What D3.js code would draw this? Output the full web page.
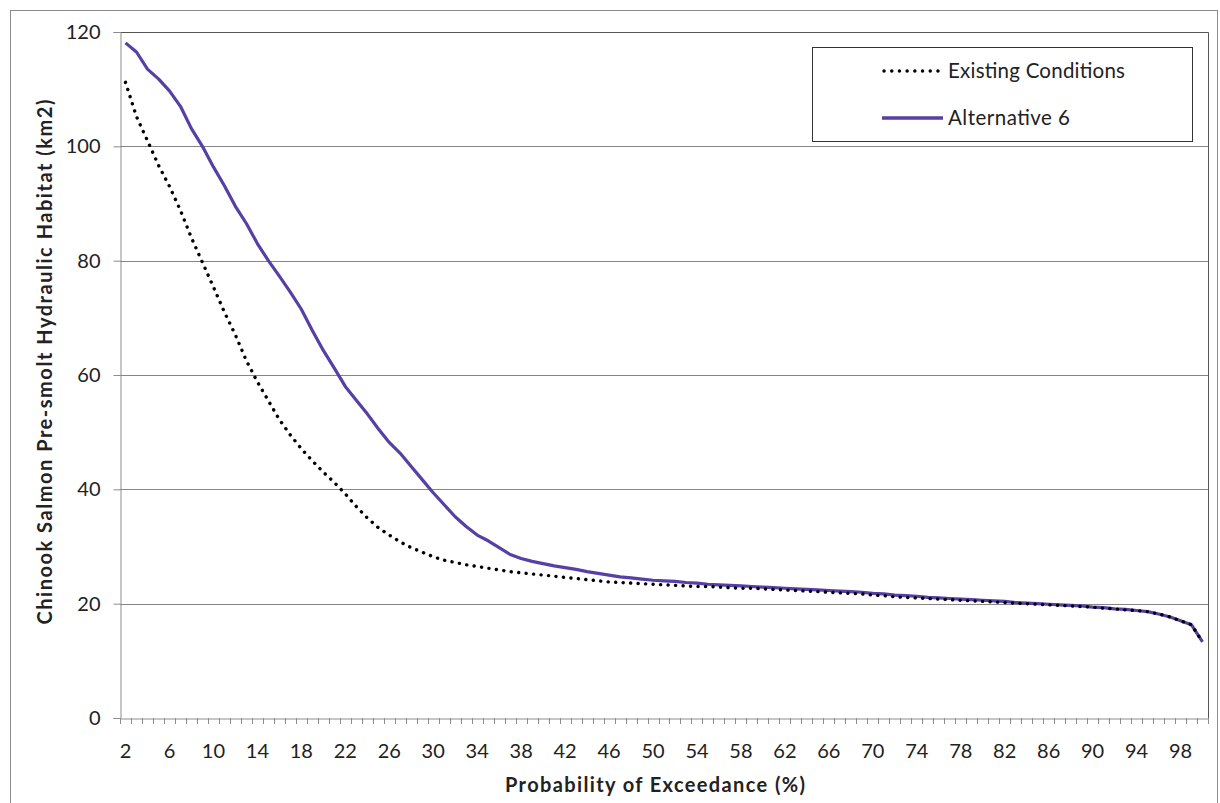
<!DOCTYPE html>
<html><head><meta charset="utf-8">
<script src="https://cdn.jsdelivr.net/npm/d3@7"></script>
<style>
html,body{margin:0;padding:0;background:#fff;}
svg{display:block;font-family:Lato, "Open Sans", sans-serif;}
</style></head>
<body>
<svg id="chart" width="1220" height="803"></svg>
<script>
// Categories: probability of exceedance (%) 2..100
const categories = d3.range(2, 101);
const tickLabels = ["2","6","10","14","18","22","26","30","34","38","42","46","50","54","58","62","66","70","74","78","82","86","90","94","98"];
const yTicks = [0, 20, 40, 60, 80, 100, 120];
const seriesNames = ["Existing Conditions", "Alternative 6"];

const existingValues = [
111.2,105.2,101.0,96.7,93.0,88.8,84.0,79.7,75.4,71.0,
67.0,62.5,58.8,55.5,52.2,49.5,47.1,45.0,43.0,41.2,
39.2,37.0,35.0,33.3,32.0,30.8,29.8,29.0,28.2,27.6,
27.2,26.8,26.5,26.2,25.9,25.6,25.4,25.2,25.0,24.8,
24.6,24.4,24.2,24.0,23.8,23.7,23.6,23.5,23.4,23.3,
23.2,23.1,23.0,23.0,22.9,22.8,22.7,22.7,22.6,22.5,
22.4,22.3,22.2,22.1,22.0,21.9,21.8,21.7,21.5,21.4,
21.2,21.1,21.0,20.9,20.8,20.7,20.6,20.5,20.4,20.3,
20.2,20.1,20.0,19.9,19.8,19.7,19.6,19.5,19.4,19.2,
19.1,18.9,18.8,18.6,18.2,17.7,17.0,16.3,13.3];

const alternativeValues = [
118.1,116.5,113.5,111.8,109.7,107.0,103.1,100.0,96.4,93.1,
89.5,86.5,83.0,80.0,77.3,74.5,71.5,67.8,64.3,61.2,
58.0,55.6,53.2,50.6,48.2,46.3,44.0,41.7,39.4,37.3,
35.2,33.5,32.0,31.0,29.8,28.6,27.9,27.4,27.0,26.6,
26.3,26.0,25.6,25.3,25.0,24.7,24.5,24.3,24.1,24.0,
23.9,23.7,23.6,23.4,23.3,23.2,23.1,23.0,22.9,22.8,
22.7,22.6,22.5,22.4,22.3,22.2,22.1,22.0,21.8,21.7,
21.5,21.4,21.3,21.1,21.0,20.9,20.8,20.7,20.6,20.5,
20.4,20.2,20.1,20.0,19.9,19.8,19.7,19.6,19.4,19.3,
19.1,19.0,18.8,18.6,18.2,17.7,17.0,16.3,13.3];

const svg = d3.select("#chart");
const L = 120, R = 1208, T = 32, B = 718;

// outer chart border
svg.append("rect").attr("x", 10.5).attr("y", 10.5).attr("width", 1207).attr("height", 800)
  .attr("fill", "#fff").attr("stroke", "#8c8c8c").attr("stroke-width", 1);

const x = d3.scaleBand().domain(categories).range([L, R]).paddingInner(0).paddingOuter(0);
const y = d3.scaleLinear().domain([0, 120]).range([B, T]);
const cx = c => x(c) + x.bandwidth() / 2;

// gridlines
svg.append("g").selectAll("line").data(yTicks.filter(v => v > 0 && v < 120)).join("line")
  .attr("x1", L).attr("x2", R).attr("y1", d => Math.round(y(d)) + 0.5).attr("y2", d => Math.round(y(d)) + 0.5)
  .attr("stroke", "#868686").attr("stroke-width", 1);

// plot area border (top & right)
svg.append("path")
  .attr("d", `M${L},${Math.round(y(120)) + 0.5}H${R + 0.5}V${B}`)
  .attr("fill", "none").attr("stroke", "#555").attr("stroke-width", 1);

// y axis
const yAxis = svg.append("g").attr("transform", `translate(${L + 0.5},0)`)
  .call(d3.axisLeft(y).tickValues(yTicks).tickSize(7).tickPadding(13).tickFormat(d3.format("d")));
yAxis.select(".domain").attr("stroke", "#8c8c8c");
yAxis.selectAll(".tick line").attr("stroke", "#8c8c8c");
yAxis.selectAll("text").attr("font-size", 20).attr("fill", "#222").attr("font-family", "Lato");

// x axis
const xAxis = svg.append("g").attr("transform", `translate(0,${B + 0.5})`)
  .call(d3.axisBottom(x).tickValues(tickLabels.map(Number)).tickSize(0).tickPadding(25));
xAxis.select(".domain").attr("stroke", "#8c8c8c");
xAxis.selectAll("text").attr("font-size", 20).attr("fill", "#222").attr("font-family", "Lato");
// tick marks at every category boundary
const bounds = categories.map(c => x(c)).concat([x(categories[categories.length - 1]) + x.bandwidth()]);
svg.append("g").selectAll("line").data(bounds).join("line")
  .attr("x1", d => Math.round(d) + 0.5).attr("x2", d => Math.round(d) + 0.5)
  .attr("y1", B).attr("y2", B + 6).attr("stroke", "#8c8c8c").attr("stroke-width", 1);

// lines
const line = d3.line().x((d, i) => cx(categories[i])).y(d => y(d));
svg.append("path").datum(alternativeValues).attr("d", line)
  .attr("fill", "none").attr("stroke", "#5640a6").attr("stroke-width", 3.2)
  .attr("stroke-linejoin", "round");
svg.append("path").datum(existingValues).attr("d", line)
  .attr("fill", "none").attr("stroke", "#000").attr("stroke-width", 3.4)
  .attr("stroke-linecap", "round").attr("stroke-dasharray", "0.1 7.4");

// axis titles
svg.append("text").attr("x", 655).attr("y", 792).attr("text-anchor", "middle")
  .attr("font-size", 20).attr("font-weight", "bold").attr("fill", "#222")
  .attr("textLength", 300).attr("lengthAdjust", "spacing")
  .text("Probability of Exceedance (%)");
svg.append("text").attr("transform", "translate(52,362) rotate(-90)").attr("text-anchor", "middle")
  .attr("font-size", 20).attr("font-weight", "bold").attr("fill", "#222")
  .attr("textLength", 525).attr("lengthAdjust", "spacing")
  .text("Chinook Salmon Pre-smolt Hydraulic Habitat (km2)");

// legend
const lg = svg.append("g");
lg.append("rect").attr("x", 812.5).attr("y", 47.5).attr("width", 380).attr("height", 94)
  .attr("fill", "#fff").attr("stroke", "#333").attr("stroke-width", 1);
lg.append("line").attr("x1", 884).attr("x2", 938).attr("y1", 71).attr("y2", 71)
  .attr("stroke", "#000").attr("stroke-width", 3.4).attr("stroke-linecap", "round").attr("stroke-dasharray", "0.1 7.6");
lg.append("line").attr("x1", 882).attr("x2", 943).attr("y1", 118).attr("y2", 118)
  .attr("stroke", "#5640a6").attr("stroke-width", 3.4);
lg.selectAll("text.lt").data(seriesNames).join("text").attr("class", "lt")
  .attr("x", 948).attr("y", (d, i) => i === 0 ? 78 : 125)
  .attr("font-size", 20.5).attr("fill", "#222")
  .attr("textLength", (d, i) => i === 0 ? 177 : 122).attr("lengthAdjust", "spacing")
  .text(d => d);
</script>
</body></html>
